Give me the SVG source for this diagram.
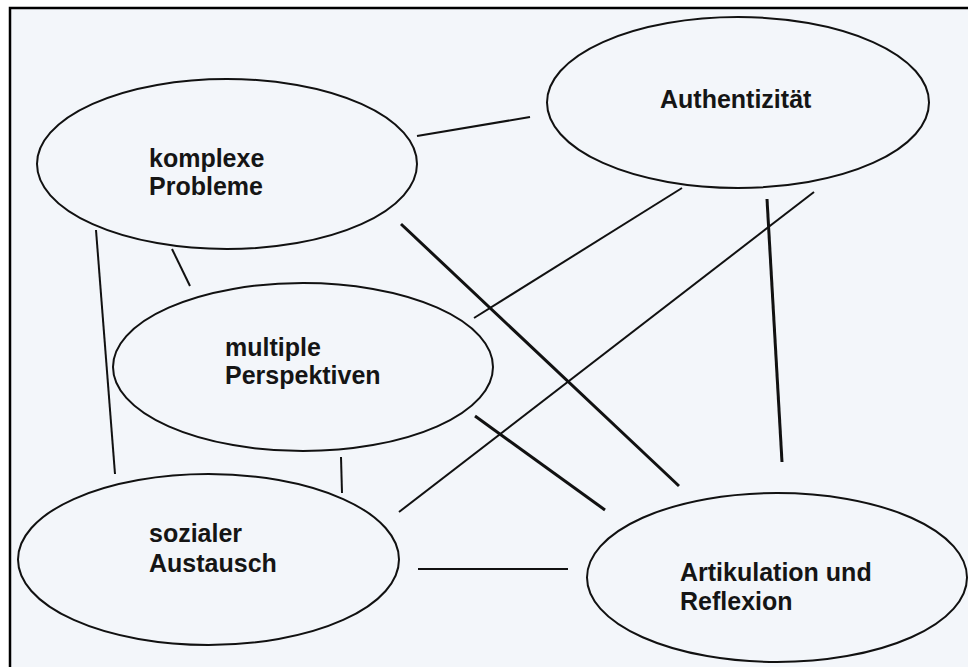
<svg xmlns="http://www.w3.org/2000/svg" width="968" height="667" viewBox="0 0 968 667">
<style>
.node ellipse{fill:none;stroke:#111;stroke-width:2}
.node text{font-family:"Liberation Sans",Arial,sans-serif;font-weight:bold;font-size:25px;fill:#151515}
.c line{stroke:#111;stroke-width:2;stroke-linecap:butt}
.c line.thick{stroke-width:3}
</style>
<rect x="0" y="0" width="968" height="667" fill="#ffffff"/>
<rect x="10" y="8" width="1000" height="700" fill="#f3f6fa" stroke="#000" stroke-width="2.5"/>
<g class="c" id="connectors">
<line x1="417" y1="136" x2="530" y2="117"/>
<line class="thick" x1="401" y1="224" x2="679" y2="486"/>
<line x1="172" y1="249" x2="190" y2="286"/>
<line x1="96" y1="230" x2="115" y2="474"/>
<line x1="682" y1="188" x2="474" y2="318"/>
<line x1="814" y1="192" x2="399" y2="512"/>
<line class="thick" x1="767" y1="199" x2="782" y2="462"/>
<line class="thick" x1="475" y1="416" x2="605" y2="510"/>
<line x1="341" y1="457" x2="342" y2="493"/>
<line x1="418" y1="569" x2="568" y2="569"/>
</g>
<g class="node" id="komplexe-probleme">
<ellipse cx="227" cy="164" rx="190" ry="85"/>
<text x="149" y="167">komplexe</text>
<text x="149" y="195">Probleme</text>
</g>
<g class="node" id="authentizitaet">
<ellipse cx="738" cy="102.5" rx="191" ry="85.5"/>
<text x="660" y="108">Authentizität</text>
</g>
<g class="node" id="multiple-perspektiven">
<ellipse cx="303" cy="367" rx="190" ry="84"/>
<text x="225" y="356">multiple</text>
<text x="225" y="384">Perspektiven</text>
</g>
<g class="node" id="sozialer-austausch">
<ellipse cx="208.5" cy="559.5" rx="190.5" ry="85.5"/>
<text x="149" y="542">sozialer</text>
<text x="149" y="572">Austausch</text>
</g>
<g class="node" id="artikulation-reflexion">
<ellipse cx="777" cy="577.5" rx="190" ry="84.5"/>
<text x="680" y="581">Artikulation und</text>
<text x="680" y="610">Reflexion</text>
</g>
</svg>
